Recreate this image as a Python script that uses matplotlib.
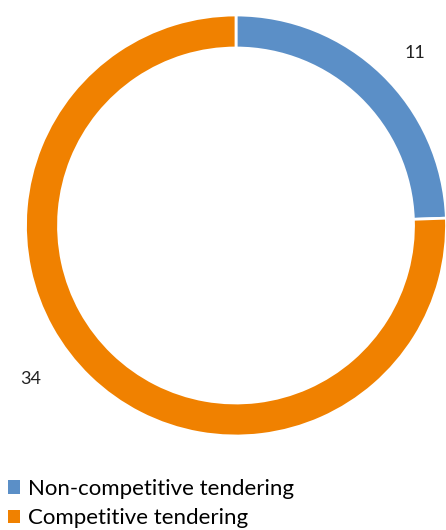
import matplotlib
matplotlib.use("Agg")
import matplotlib.pyplot as plt
from matplotlib.patches import Patch

plt.rcParams['font.family'] = ['Lato', 'DejaVu Sans']

categories = ["Non-competitive tendering", "Competitive tendering"]
values = [11, 34]
colors = ["#5B8FC7", "#F08100"]

W, H = 446, 530
fig = plt.figure(figsize=(W / 100, H / 100), dpi=100)

cx, cy, r = 236, 225.5, 210.5
ax = fig.add_axes([(cx - r) / W, (H - cy - r) / H, 2 * r / W, 2 * r / H])

wedges, _ = ax.pie(values, colors=colors, startangle=90, counterclock=False,
                   radius=1.0, wedgeprops=dict(width=33 / r, edgecolor="white", linewidth=2))
ax.set_xlim(-1, 1)
ax.set_ylim(-1, 1)
ax.set_aspect("equal")
ax.axis("off")

# value labels placed outside the ring
ax.text(0.85, 0.82, str(values[0]), fontsize=13, color="#222222", ha="center", va="center")
ax.text(-0.975, -0.73, str(values[1]), fontsize=13, color="#222222", ha="center", va="center")

handles = [Patch(facecolor=c, edgecolor="none") for c in colors]
fig.legend(handles, categories, loc="lower left", bbox_to_anchor=(-0.018, -0.026),
           frameon=False, fontsize=16, handlelength=0.55, handleheight=0.55,
           handletextpad=0.35, labelspacing=0.42, borderaxespad=0.3)

fig.savefig("out.png", dpi=100)
